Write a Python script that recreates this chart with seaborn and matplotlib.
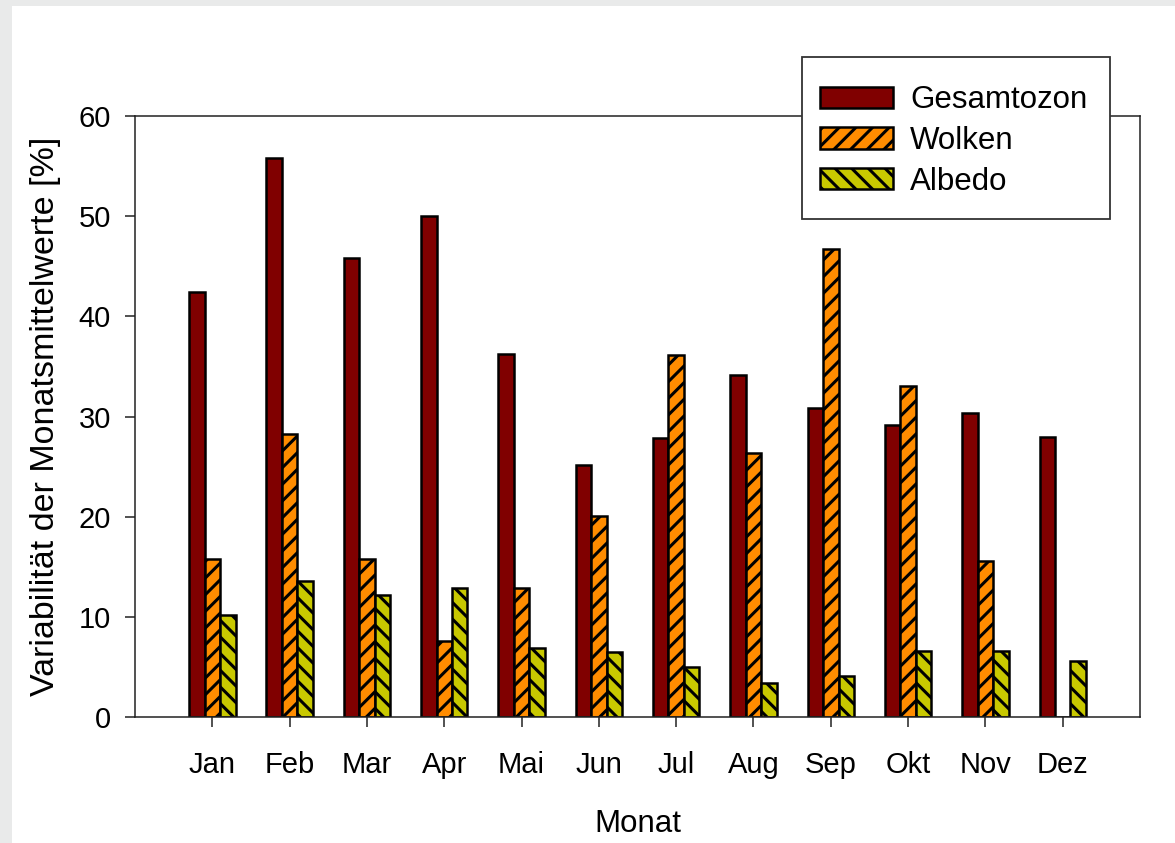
import numpy as np
import pandas as pd
import matplotlib
matplotlib.use('Agg')
import matplotlib.pyplot as plt
from matplotlib.patches import Rectangle
import seaborn as sns

# ~ data
months = ['Jan', 'Feb', 'Mar', 'Apr', 'Mai', 'Jun', 'Jul', 'Aug', 'Sep', 'Okt', 'Nov', 'Dez']
gesamtozon = [42.4, 55.8, 45.8, 50.0, 36.2, 25.2, 27.9, 34.1, 30.8, 29.2, 30.3, 28.0]
wolken = [15.8, 28.3, 15.8, 7.6, 12.9, 20.1, 36.1, 26.4, 46.7, 33.0, 15.6, 0.0]
albedo = [10.2, 13.6, 12.2, 12.9, 6.9, 6.5, 5.0, 3.4, 4.1, 6.6, 6.6, 5.6]
series = ['Gesamtozon', 'Wolken', 'Albedo']

df = pd.DataFrame({'Monat': months * 3,
                   'wert': gesamtozon + wolken + albedo,
                   'reihe': np.repeat(series, len(months))})

sns.set_style('white')
plt.rcParams['font.family'] = ['Liberation Sans', 'DejaVu Sans']
plt.rcParams['hatch.linewidth'] = 2.2
for k in ['text.color', 'axes.labelcolor', 'xtick.color', 'ytick.color']:
    plt.rcParams[k] = 'black'

fig = plt.figure(figsize=(11.75, 8.43), dpi=100, facecolor='#e9eaea')
# white sheet with a thin grey frame on the left and top
fig.patches.append(Rectangle((12/1175, 0), 1, 1 - 6/843, transform=fig.transFigure,
                             facecolor='white', edgecolor='none', zorder=-5))
ax = fig.add_axes([135/1175, 1 - 717/843, 1005/1175, 601/843])

colors = ['#800000', '#ff8c00', '#c8c800']
ax = sns.barplot(data=df, x='Monat', y='wert', hue='reihe', hue_order=series,
                 palette=colors, width=0.6, saturation=1, legend=False,
                 edgecolor='black', linewidth=1.8, ax=ax)

hatches = ['', '//', '\\\\']
for cont, h in zip(ax.containers, hatches):
    for p in cont.patches:
        p.set_hatch(h)

ax.set_xlim(-1, 12)
ax.set_ylim(0, 60)
ax.set_yticks(range(0, 61, 10))
ax.tick_params(axis='both', length=7.2, width=1.1, color='#222222',
               direction='out', left=True, bottom=True)
ax.tick_params(axis='y', labelsize=21, pad=10)
ax.tick_params(axis='x', labelsize=21, pad=17)
for s in ax.spines.values():
    s.set_visible(True)
    s.set_color('#222222')
    s.set_linewidth(1.1)

ax.set_ylabel('Variabilität der Monatsmittelwerte [%]', fontsize=24.5)
ax.yaxis.set_label_coords(-0.074, 0.5)
ax.set_xlabel('Monat', fontsize=22.5, labelpad=22)

# legend box (drawn on top of the top spine, like the original)
ax.add_patch(Rectangle((802/1175, 1 - 219/843), 308/1175, 162/843,
                       transform=fig.transFigure, facecolor='white',
                       edgecolor='#333333', linewidth=1.3, clip_on=False, zorder=4.9))
leg = ax.legend(handles=ax.containers, labels=series, loc='upper left',
                bbox_to_anchor=(820/1175, 1 - 85/843), bbox_transform=fig.transFigure,
                fontsize=22.5, frameon=False, borderpad=0, borderaxespad=0,
                labelspacing=0.35, handlelength=2.32, handleheight=0.66,
                handletextpad=0.56)
leg.set_zorder(5)

fig.savefig('out.png', dpi=100)
